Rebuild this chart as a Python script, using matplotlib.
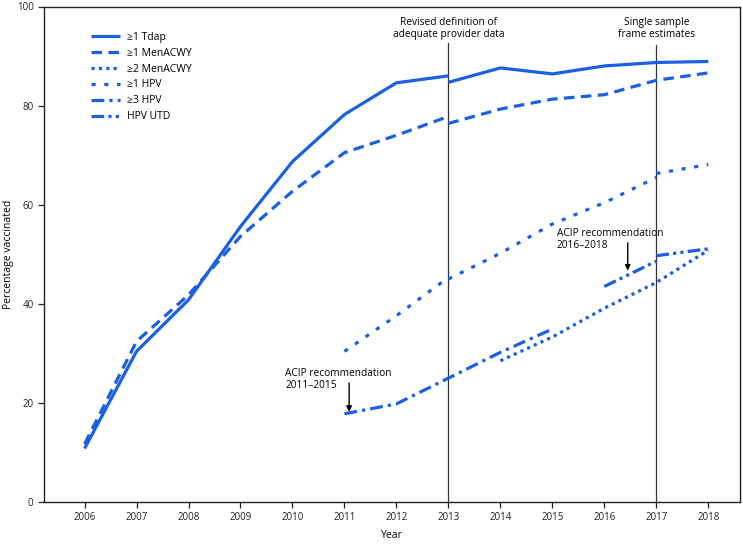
import matplotlib
matplotlib.use("Agg")
import matplotlib.pyplot as plt
import numpy as np

plt.rcParams['font.family'] = ['Open Sans', 'DejaVu Sans']

# ---- data ----
years_tick = list(range(2006, 2019))

tdap_years_a = [2006, 2007, 2008, 2009, 2010, 2011, 2012, 2013]
tdap_a = [10.8, 30.4, 40.8, 55.6, 68.7, 78.2, 84.6, 86.0]
tdap_years_b = [2013, 2014, 2015, 2016, 2017, 2018]
tdap_b = [84.7, 87.6, 86.4, 88.0, 88.7, 88.9]

men1_years_a = [2006, 2007, 2008, 2009, 2010, 2011, 2012, 2013]
men1_a = [11.7, 32.4, 41.8, 53.6, 62.7, 70.5, 74.0, 77.8]
men1_years_b = [2013, 2014, 2015, 2016, 2017, 2018]
men1_b = [76.4, 79.3, 81.3, 82.2, 85.1, 86.6]

men2_years = [2014, 2015, 2016, 2017, 2018]
men2 = [28.5, 33.3, 39.1, 44.3, 50.8]

hpv1_years_a = [2011, 2012, 2013]
hpv1_a = [30.4, 37.6, 45.3]
hpv1_years_b = [2013, 2014, 2015, 2016, 2017]
hpv1_b = [45.0, 50.2, 56.1, 60.4, 65.5]
hpv1_years_c = [2017, 2018]
hpv1_c = [66.3, 68.1]

hpv3_years = [2011, 2012, 2013, 2014, 2015]
hpv3 = [17.8, 19.8, 25.0, 30.2, 34.9]

utd_years_a = [2016, 2017]
utd_a = [43.5, 48.6]
utd_years_b = [2017, 2018]
utd_b = [49.7, 51.1]

labels = ["\u22651 Tdap", "\u22651 MenACWY", "\u22652 MenACWY", "\u22651 HPV", "\u22653 HPV", "HPV UTD"]

# ---- styling ----
blue = '#1b5fe3'
lw = 2.3
styles = {
    "tdap": (0, ()),
    "men1": (0, (3.3, 2.0)),
    "men2": (0, (1.0, 1.3)),
    "hpv1": (0, (1.3, 2.7)),
    "hpv3": (0, (4.0, 1.6, 1.0, 1.6)),
    "utd": (0, (4.0, 1.3, 1.0, 1.3, 1.0, 1.3)),
}

fig = plt.figure(figsize=(7.43, 5.44), dpi=100)
ax = fig.add_axes([44/743, 1-502/544, (740-44)/743, (502-6.5)/544])

def seg(xs, ys, key, label=None):
    ax.plot(xs, ys, color=blue, lw=lw, linestyle=styles[key], label=label,
            dash_capstyle='butt', solid_capstyle='butt')

seg(tdap_years_a, tdap_a, "tdap", labels[0])
seg(tdap_years_b, tdap_b, "tdap")
seg(men1_years_a, men1_a, "men1", labels[1])
seg(men1_years_b, men1_b, "men1")
seg(men2_years, men2, "men2", labels[2])
seg(hpv1_years_a, hpv1_a, "hpv1", labels[3])
seg(hpv1_years_b, hpv1_b, "hpv1")
seg(hpv1_years_c, hpv1_c, "hpv1")
seg(hpv3_years, hpv3, "hpv3", labels[4])
seg(utd_years_a, utd_a, "utd", labels[5])
seg(utd_years_b, utd_b, "utd")

# vertical reference lines
ax.plot([2013, 2013], [0, 92.7], color='#333333', lw=0.9, zorder=1)
ax.plot([2017, 2017], [0, 92.3], color='#333333', lw=0.9, zorder=1)

ax.text(2013, 95.6, "Revised definition of\nadequate provider data", ha='center', va='center',
        fontsize=7.3, linespacing=1.15)
ax.text(2017, 95.6, "Single sample\nframe estimates", ha='center', va='center',
        fontsize=7.3, linespacing=1.15)

# ACIP annotations
ax.text(2009.86, 24.75, "ACIP recommendation\n2011\u20132015", ha='left', va='center',
        fontsize=7.3, linespacing=1.15)
ax.annotate("", xy=(2011.09, 18.2), xytext=(2011.09, 24.0),
            arrowprops=dict(arrowstyle='-|>', color='black', lw=1.0, mutation_scale=8,
                            shrinkA=0, shrinkB=0))
ax.text(2015.09, 53.0, "ACIP recommendation\n2016\u20132018", ha='left', va='center',
        fontsize=7.3, linespacing=1.15)
ax.annotate("", xy=(2016.45, 46.7), xytext=(2016.45, 52.3),
            arrowprops=dict(arrowstyle='-|>', color='black', lw=1.0, mutation_scale=8,
                            shrinkA=0, shrinkB=0))

ax.set_xlim(2005.22, 2018.61)
ax.set_ylim(0, 100)
ax.set_xticks(years_tick)
ax.set_xticklabels([str(y) for y in years_tick])
ax.set_yticks([0, 20, 40, 60, 80, 100])
ax.tick_params(axis='both', labelsize=7, direction='out', length=4, width=0.9, colors='#222222')
ax.tick_params(axis='x', pad=3)
for sp in ax.spines.values():
    sp.set_linewidth(1.0)
    sp.set_color('#222222')

ax.set_xlabel("Year", fontsize=7.5, labelpad=5)
ax.set_ylabel("Percentage vaccinated", fontsize=7.5, labelpad=2)

leg = ax.legend(loc='upper left', bbox_to_anchor=(0.068, 0.949), frameon=False,
                fontsize=7.5, handlelength=2.8, handletextpad=0.6, labelspacing=0.47,
                borderpad=0, borderaxespad=0)

fig.savefig("out.png", dpi=100)
